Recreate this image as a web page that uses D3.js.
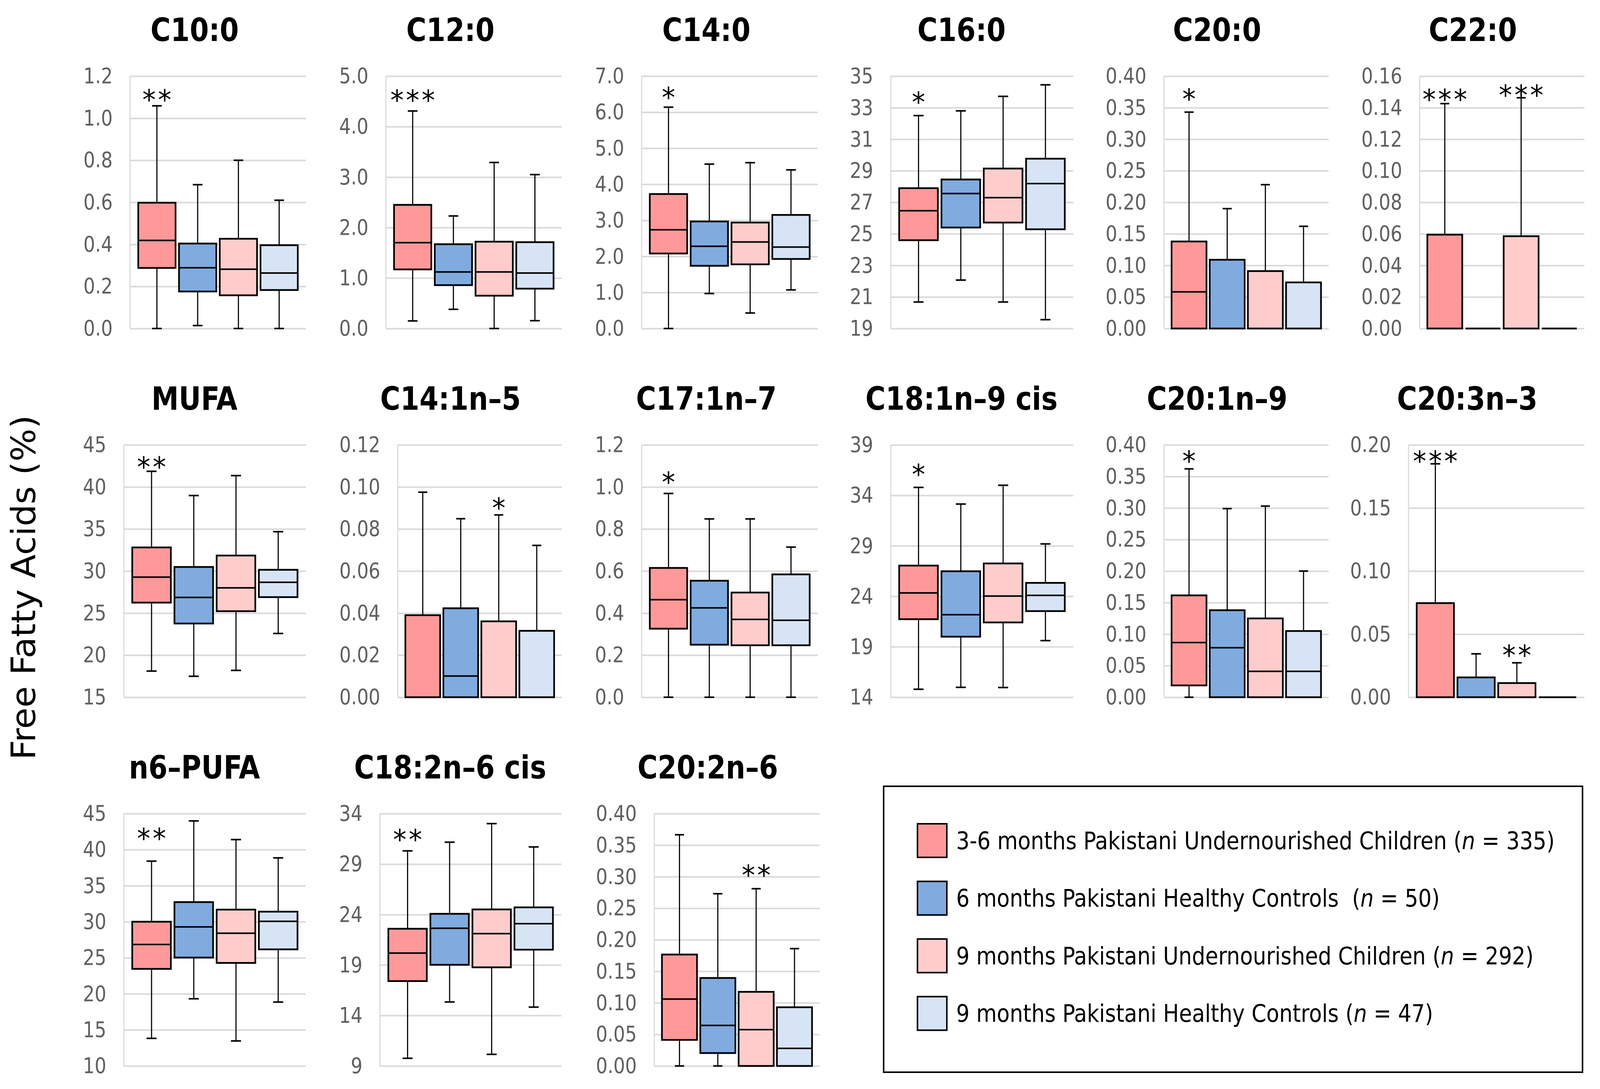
<!DOCTYPE html>
<html>
<head>
<meta charset="utf-8">
<script src="https://cdn.jsdelivr.net/npm/d3@7/dist/d3.min.js"></script>
<style>
  html, body { margin: 0; padding: 0; background: #fff; overflow: hidden; }
  svg { display: block; width: 100vw; height: 100vh; }
</style>
</head>
<body>
<svg id="chart" viewBox="0 0 4304 2788" preserveAspectRatio="none"></svg>
<script>
// groups (legend order)
const groupNames = [
  "3-6 months Pakistani Undernourished Children",
  "6 months Pakistani Healthy Controls ",
  "9 months Pakistani Undernourished Children",
  "9 months Pakistani Healthy Controls"
];
const groupN = [335, 50, 292, 47];

const panelTitles = [
  "C10:0", "C12:0", "C14:0", "C16:0", "C20:0", "C22:0",
  "MUFA", "C14:1n\u20135", "C17:1n\u20137", "C18:1n\u20139 cis", "C20:1n\u20139", "C20:3n\u20133",
  "n6\u2013PUFA", "C18:2n\u20136 cis", "C20:2n\u20136"
];

// [min, q1, median, q3, max] per group
const c10_0 = [[0, 0.288, 0.419, 0.598, 1.059], [0.014, 0.176, 0.289, 0.404, 0.684], [0, 0.158, 0.282, 0.427, 0.80], [0, 0.183, 0.264, 0.396, 0.61]];
const c12_0 = [[0.15, 1.17, 1.70, 2.45, 4.31], [0.38, 0.86, 1.12, 1.67, 2.23], [0, 0.65, 1.12, 1.72, 3.29], [0.155, 0.79, 1.10, 1.71, 3.05]];
const c14_0 = [[0, 2.08, 2.74, 3.73, 6.14], [0.97, 1.74, 2.28, 2.97, 4.56], [0.43, 1.78, 2.40, 2.94, 4.60], [1.07, 1.93, 2.26, 3.15, 4.40]];
const c16_0 = [[20.68, 24.6, 26.47, 27.9, 32.5], [22.07, 25.4, 27.56, 28.45, 32.8], [20.68, 25.72, 27.3, 29.14, 33.72], [19.56, 25.29, 28.19, 29.77, 34.45]];
const c20_0 = [[0, 0, 0.058, 0.138, 0.343], [0, 0, 0, 0.109, 0.19], [0, 0, 0, 0.091, 0.228], [0, 0, 0, 0.073, 0.162]];
const c22_0 = [[0, 0, 0, 0.0595, 0.1426], [0, 0, 0, 0, 0], [0, 0, 0, 0.0585, 0.1463], [0, 0, 0, 0, 0]];
const mufa = [[18.11, 26.25, 29.28, 32.81, 41.86], [17.49, 23.76, 26.87, 30.49, 38.98], [18.19, 25.23, 28.0, 31.85, 41.35], [22.58, 26.9, 28.66, 30.15, 34.68]];
const c14_1n5 = [[0, 0, 0, 0.039, 0.0975], [0, 0, 0.0101, 0.0423, 0.0849], [0, 0, 0, 0.0361, 0.0867], [0, 0, 0, 0.0316, 0.0722]];
const c17_1n7 = [[0, 0.326, 0.464, 0.615, 0.969], [0, 0.25, 0.425, 0.554, 0.848], [0, 0.247, 0.37, 0.498, 0.848], [0, 0.247, 0.366, 0.584, 0.714]];
const c18_1n9 = [[14.79, 21.73, 24.33, 27.04, 34.79], [14.98, 20.0, 22.18, 26.48, 33.14], [14.96, 21.41, 24.02, 27.25, 35.0], [19.61, 22.53, 24.09, 25.33, 29.19]];
const c20_1n9 = [[0, 0.0187, 0.0867, 0.1615, 0.362], [0, 0, 0.0785, 0.138, 0.299], [0, 0, 0.041, 0.125, 0.303], [0, 0, 0.041, 0.105, 0.20]];
const c20_3n3 = [[0, 0, 0, 0.0746, 0.185], [0, 0, 0, 0.0157, 0.0344], [0, 0, 0, 0.0112, 0.0273], [0, 0, 0, 0, 0]];
const n6pufa = [[13.83, 23.47, 26.85, 30.0, 38.41], [19.32, 25.03, 29.29, 32.73, 43.99], [13.47, 24.29, 28.41, 31.69, 41.4], [18.86, 26.17, 30.06, 31.4, 38.86]];
const c18_2n6 = [[9.76, 17.41, 20.18, 22.59, 30.31], [15.34, 19.02, 22.64, 24.07, 31.17], [10.15, 18.77, 22.11, 24.51, 33.01], [14.83, 20.52, 23.1, 24.71, 30.7]];
const c20_2n6 = [[0, 0.0413, 0.106, 0.1766, 0.3665], [0, 0.0204, 0.0643, 0.1394, 0.273], [0, 0, 0.0576, 0.1175, 0.281], [0, 0, 0.0279, 0.093, 0.186]];

const panelStats = [c10_0, c12_0, c14_0, c16_0, c20_0, c22_0, mufa, c14_1n5, c17_1n7, c18_1n9, c20_1n9, c20_3n3, n6pufa, c18_2n6, c20_2n6];

// y tick values per panel
const ticksC10 = [0, 0.2, 0.4, 0.6, 0.8, 1.0, 1.2];
const ticksC12 = [0, 1, 2, 3, 4, 5];
const ticksC14 = [0, 1, 2, 3, 4, 5, 6, 7];
const ticksC16 = [19, 21, 23, 25, 27, 29, 31, 33, 35];
const ticksC20 = [0, 0.05, 0.10, 0.15, 0.20, 0.25, 0.30, 0.35, 0.40];
const ticksC22 = [0, 0.02, 0.04, 0.06, 0.08, 0.10, 0.12, 0.14, 0.16];
const ticksMufa = [15, 20, 25, 30, 35, 40, 45];
const ticksC141 = [0, 0.02, 0.04, 0.06, 0.08, 0.10, 0.12];
const ticksC171 = [0, 0.2, 0.4, 0.6, 0.8, 1.0, 1.2];
const ticksC181 = [14, 19, 24, 29, 34, 39];
const ticksC201 = [0, 0.05, 0.10, 0.15, 0.20, 0.25, 0.30, 0.35, 0.40];
const ticksC203 = [0, 0.05, 0.10, 0.15, 0.20];
const ticksN6 = [10, 15, 20, 25, 30, 35, 40, 45];
const ticksC182 = [9, 14, 19, 24, 29, 34];
const ticksC202 = [0, 0.05, 0.10, 0.15, 0.20, 0.25, 0.30, 0.35, 0.40];
const panelTicks = [ticksC10, ticksC12, ticksC14, ticksC16, ticksC20, ticksC22, ticksMufa, ticksC141, ticksC171, ticksC181, ticksC201, ticksC203, ticksN6, ticksC182, ticksC202];
const tickDecimals = [1, 1, 1, 0, 2, 2, 0, 2, 1, 0, 2, 2, 0, 0, 2];

// significance marks: panel index, group index, label, value level
const sigPanel = [0, 1, 2, 3, 4, 5, 5, 6, 7, 8, 9, 10, 11, 11, 12, 13, 14];
const sigGroup = [0, 0, 0, 0, 0, 0, 2, 0, 2, 0, 0, 0, 0, 2, 0, 0, 2];
const sigLabel = ["**", "***", "*", "*", "*", "***", "***", "**", "*", "*", "*", "*", "***", "**", "**", "**", "**"];
const sigLevel = [1.12, 4.66, 6.6, 33.78, 0.3745, 0.1495, 0.1524, 43.2, 0.0932, 1.056, 36.76, 0.385, 0.1925, 0.0387, 42.5, 32.1, 0.313];

// ---- layout / style ----
const FONT = "'DejaVu Sans Condensed', 'DejaVu Sans', sans-serif";
const fills = ["#ff9999", "#80abdf", "#ffcccc", "#d7e4f5"];
const rowTop = [195, 1139, 2083];
const plotH = 646;
const layout = [
  [350, 823], [1038, 1511], [1726, 2200], [2396, 2887], [3131, 3574], [3819, 4262],
  [333, 823], [1070, 1511], [1726, 2200], [2396, 2887], [3131, 3574], [3789, 4262],
  [333, 823], [1022, 1510], [1760, 2205]
];

const svg = d3.select("#chart");
svg.append("rect").attr("width", 4304).attr("height", 2788).attr("fill", "#fff");

panelTitles.forEach((title, i) => {
  const row = Math.floor(i / 6);
  const [x0, x1] = layout[i];
  const w = x1 - x0;
  const t = panelTicks[i];
  const y = d3.scaleLinear().domain([t[0], t[t.length - 1]]).range([plotH, 0]);
  const x = d3.scaleBand().domain(d3.range(4)).range([0, w]).paddingInner(0.085).paddingOuter(0.2);
  const g = svg.append("g").attr("transform", `translate(${x0},${rowTop[row]})`);

  // gridlines
  g.append("g")
    .call(d3.axisLeft(y).tickValues(t).tickSize(-w).tickFormat(""))
    .call(a => {
      a.select(".domain").remove();
      a.selectAll("line").attr("stroke", "#dadada").attr("stroke-width", 4);
    });
  g.append("line")
    .attr("x1", 0).attr("x2", 0).attr("y1", 0).attr("y2", plotH)
    .attr("stroke", "#dadada").attr("stroke-width", 3);

  // tick labels
  const labels = g.append("g")
    .call(d3.axisLeft(y).tickValues(t).tickSize(0).tickPadding(47).tickFormat(d3.format(`.${tickDecimals[i]}f`)))
    .attr("font-family", FONT).attr("font-size", 55);
  labels.select(".domain").remove();
  labels.selectAll("text").attr("fill", "#606060");

  // boxes
  const bw = x.bandwidth();
  const cap = bw * 0.26;
  g.selectAll(".box").data(panelStats[i]).join("g").attr("class", "box")
    .each(function(d, j) {
      const b = d3.select(this);
      const cx = x(j) + bw / 2;
      const [mn, q1, md, q3, mx] = d;
      if (mx > q3) {
        b.append("line").attr("x1", cx).attr("x2", cx).attr("y1", y(q3)).attr("y2", y(mx))
          .attr("stroke", "#000").attr("stroke-width", 3);
        b.append("line").attr("x1", cx - cap / 2).attr("x2", cx + cap / 2).attr("y1", y(mx)).attr("y2", y(mx))
          .attr("stroke", "#000").attr("stroke-width", 4);
      }
      if (mn < q1) {
        b.append("line").attr("x1", cx).attr("x2", cx).attr("y1", y(mn)).attr("y2", y(q1))
          .attr("stroke", "#000").attr("stroke-width", 3);
        b.append("line").attr("x1", cx - cap / 2).attr("x2", cx + cap / 2).attr("y1", y(mn)).attr("y2", y(mn))
          .attr("stroke", "#000").attr("stroke-width", 4);
      }
      const bx = x(j), top = y(q3), bot = y(q1);
      b.append("path")
        .attr("d", `M${bx},${top}H${bx + bw}V${bot}H${bx}Z`)
        .attr("fill", fills[j]).attr("stroke", "#000").attr("stroke-width", 4.5);
      if (md > q1 && md < q3) {
        b.append("line").attr("x1", bx).attr("x2", bx + bw).attr("y1", y(md)).attr("y2", y(md))
          .attr("stroke", "#000").attr("stroke-width", 4);
      }
    });

  // significance
  sigPanel.forEach((p, k) => {
    if (p !== i) return;
    g.append("text")
      .attr("x", x(sigGroup[k]) + bw / 2 + 3)
      .attr("y", y(sigLevel[k]) + 42)
      .attr("text-anchor", "middle")
      .attr("font-family", "'DejaVu Sans', sans-serif")
      .attr("font-size", 72)
      .attr("letter-spacing", 6)
      .text(sigLabel[k]);
  });

  // title centred over labels + plot
  const bb = labels.node().getBBox();
  const left = x0 + bb.x;
  svg.append("text")
    .attr("x", (left + x1) / 2)
    .attr("y", rowTop[row] - 90)
    .attr("text-anchor", "middle")
    .attr("font-family", FONT)
    .attr("font-weight", "bold")
    .attr("font-size", 82)
    .text(title);
});

// y-axis title, sized to the reference length
const yTitle = svg.append("text")
  .attr("transform", "translate(63,1504) rotate(-90)")
  .attr("text-anchor", "middle")
  .attr("dominant-baseline", "central")
  .attr("font-family", "'DejaVu Sans', sans-serif")
  .attr("font-size", 86)
  .text("Free Fatty Acids (%)");
const yLen = yTitle.node().getComputedTextLength();
if (yLen > 0) yTitle.attr("font-size", 86 * 883 / yLen);

// legend
const lg = svg.append("g");
lg.append("rect")
  .attr("x", 2377).attr("y", 2013).attr("width", 1880).attr("height", 732)
  .attr("fill", "#fff").attr("stroke", "#000").attr("stroke-width", 4);
const legendTexts = [];
groupNames.forEach((name, i) => {
  const cy = 2152 + i * 147.5;
  lg.append("rect")
    .attr("x", 2468).attr("y", cy - 43).attr("width", 79).attr("height", 86)
    .attr("fill", fills[i]).attr("stroke", "#000").attr("stroke-width", 4);
  const tx = lg.append("text")
    .attr("x", 2572).attr("y", cy)
    .attr("dominant-baseline", "central")
    .attr("font-family", FONT)
    .attr("font-size", 60)
    .style("white-space", "pre");
  tx.append("tspan").text(name + " (");
  tx.append("tspan").attr("font-style", "italic").text("n");
  tx.append("tspan").text(" = " + groupN[i] + ")");
  legendTexts.push(tx);
});
// first legend line spans about 1610 px in the reference
const l0 = legendTexts[0].node().getComputedTextLength();
if (l0 > 0) legendTexts.forEach(tx => tx.attr("font-size", Math.min(66, 60 * 1610 / l0)));
</script>
</body>
</html>
